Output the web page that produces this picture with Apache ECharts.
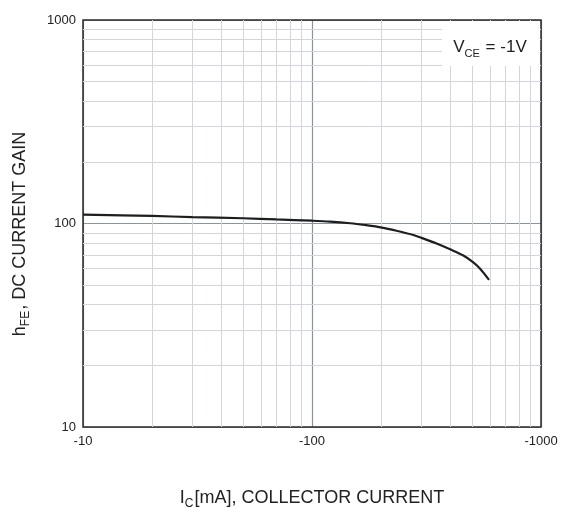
<!DOCTYPE html>
<html>
<head>
<meta charset="utf-8">
<script src="https://cdn.jsdelivr.net/npm/echarts@6/dist/echarts.min.js"></script>
<style>
html,body{margin:0;padding:0;background:#fff;}
#chart{width:561px;height:508px;}
</style>
</head>
<body>
<div id="chart"></div>
<script>
// Collector current magnitude (mA), plotted as negative values in labels
const icValues = [10, 20, 30, 50, 70, 100, 120, 147, 170, 202, 234, 277, 301, 350, 403, 458, 503, 541, 593];
// DC current gain hFE
const hfeValues = [110.5, 108.9, 107.6, 106.1, 104.7, 103.2, 102.2, 100.3, 98.3, 95.5, 92.1, 87.8, 85.0, 79.7, 74.5, 69.6, 64.7, 60.1, 52.8];
// Axis tick values
const xTicks = [10, 100, 1000];
const yTicks = [10, 100, 1000];
// Minor grid values (2..9 per decade)
const xMinor = [20,30,40,50,60,70,80,90,200,300,400,500,600,700,800,900];
const yMinor = [20,30,40,50,60,70,80,90,200,300,400,500,600,700,800,900];

const FONT = '"Liberation Sans", Arial, sans-serif';
const chart = echarts.init(document.getElementById('chart'));

const curve = icValues.map((x, i) => [x, hfeValues[i]]);

const minorLines = [
  ...xMinor.map(v => ({xAxis: v})),
  ...yMinor.map(v => ({yAxis: v}))
];

const richBase = {
  a: {fontFamily: FONT, fontSize: 18, fill: '#222', verticalAlign: 'bottom', lineHeight: 22},
  s: {fontFamily: FONT, fontSize: 12, fill: '#222', verticalAlign: 'bottom', lineHeight: 22, padding: [0, 1, -3, 0]}
};

chart.setOption({
  animation: false,
  backgroundColor: '#fff',
  grid: {
    left: 83, right: 20, top: 20, bottom: 81,
    show: true, borderColor: '#2b2b2b', borderWidth: 1.5,
    backgroundColor: 'transparent', z: 3
  },
  xAxis: {
    type: 'log', logBase: 10, min: 10, max: 1000,
    axisLine: {show: false},
    axisTick: {show: false},
    axisLabel: {
      formatter: v => (xTicks.indexOf(v) >= 0 ? '-' + v : ''),
      fontFamily: FONT, fontSize: 13, color: '#222', margin: 8,
      showMinLabel: true, showMaxLabel: true
    },
    splitLine: {show: true, lineStyle: {color: '#8e939b', width: 1.2}},
    minorTick: {show: false},
    minorSplitLine: {show: false}
  },
  yAxis: {
    type: 'log', logBase: 10, min: 10, max: 1000,
    axisLine: {show: false},
    axisTick: {show: false},
    axisLabel: {
      formatter: v => (yTicks.indexOf(v) >= 0 ? String(v) : ''),
      fontFamily: FONT, fontSize: 13, color: '#222', margin: 7
    },
    splitLine: {show: true, lineStyle: {color: '#8e939b', width: 1.2}}
  },
  series: [
    {
      type: 'line',
      data: [],
      z: 1,
      silent: true,
      markLine: {
        silent: true,
        symbol: ['none', 'none'],
        label: {show: false},
        lineStyle: {color: '#d2d5dd', width: 1, type: 'solid'},
        emphasis: {disabled: true},
        data: minorLines,
        animation: false
      }
    },
    {
      type: 'line',
      data: curve,
      smooth: 0.3,
      showSymbol: false,
      z: 5,
      lineStyle: {color: '#1e1e1e', width: 2.2}
    }
  ],
  graphic: [
    {
      type: 'rect',
      shape: {x: 442, y: 21, width: 98, height: 45},
      style: {fill: '#fff'},
      z: 10
    },
    {
      type: 'text',
      x: 490, y: 46,
      z: 11,
      style: {
        text: '{a|V}{s|CE}{a| = -1V}',
        align: 'center', verticalAlign: 'middle',
        fill: '#222',
        rich: {
          a: {fontFamily: FONT, fontSize: 17, fill: '#222', verticalAlign: 'bottom', lineHeight: 20},
          s: {fontFamily: FONT, fontSize: 11, fill: '#222', verticalAlign: 'bottom', lineHeight: 20, padding: [0, 1, -3, 0]}
        }
      }
    },
    {
      type: 'text',
      x: 18, y: 234,
      rotation: Math.PI / 2,
      z: 11,
      style: {
        text: '{a|h}{s|FE}{a|, DC CURRENT GAIN}',
        align: 'center', verticalAlign: 'middle',
        fill: '#222',
        rich: richBase
      }
    },
    {
      type: 'text',
      x: 312, y: 496,
      z: 11,
      style: {
        text: '{a|I}{s|C}{a|[mA], COLLECTOR CURRENT}',
        align: 'center', verticalAlign: 'middle',
        fill: '#222',
        rich: richBase
      }
    }
  ]
});
</script>
</body>
</html>
